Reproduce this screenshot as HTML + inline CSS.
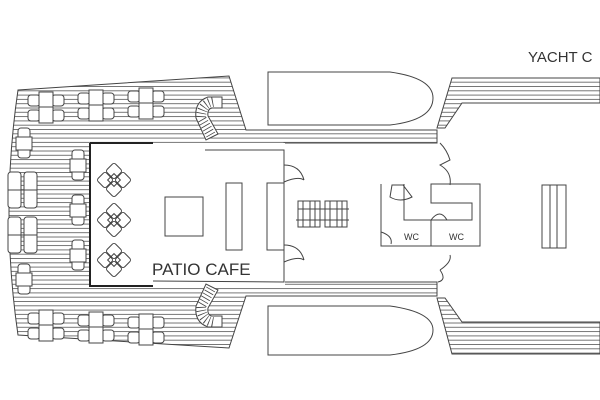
<!DOCTYPE html>
<html><head><meta charset="utf-8"><style>
html,body{margin:0;padding:0;background:#fff;width:600px;height:400px;overflow:hidden}
svg{display:block}
text{font-family:"Liberation Sans",sans-serif;fill:#333}
</style></head><body>
<svg width="600" height="400" viewBox="0 0 600 400" xmlns="http://www.w3.org/2000/svg">
<defs>
<pattern id="pl" width="10" height="4.3" patternUnits="userSpaceOnUse">
<rect width="10" height="4.3" fill="#fff"/>
<line x1="0" y1="0.5" x2="10" y2="0.5" stroke="#555" stroke-width="0.8"/>
</pattern>
<g id="dm">
<rect x="-6" y="-15" width="12" height="12" rx="2.5" transform="rotate(45 0 -9)"/>
<rect x="-6" y="3" width="12" height="12" rx="2.5" transform="rotate(45 0 9)"/>
<rect x="-15" y="-6" width="12" height="12" rx="2.5" transform="rotate(45 -9 0)"/>
<rect x="3" y="-6" width="12" height="12" rx="2.5" transform="rotate(45 9 0)"/>
<rect x="-4.5" y="-4.5" width="9" height="9" transform="rotate(45 0 0)"/>
</g>
</defs>
<g stroke="#444" stroke-width="1" fill="none">
<path d="M18,90 L229,76 L246,130 L437,130 L437,143 L284,143 L284,282 L437,282 L437,296 L246,296 L229,348 L18,335 Q0,212 18,90 Z" fill="url(#pl)"/>
<path d="M452,78 L600,78 L600,103 L462,103 L445,128 L437,128 Z" fill="url(#pl)"/>
<path d="M437,298 L445,298 L462,322 L600,322 L600,354 L452,354 Z" fill="url(#pl)"/>
<path d="M268,72 L390,72 Q433,78 433,98 Q433,120 390,125 L268,125 Z" fill="#fff"/>
<path d="M268,306 L390,306 Q433,312 433,330 Q433,350 390,355 L268,355 Z" fill="#fff"/>
<rect x="90" y="143" width="195" height="142" fill="#fff" stroke="none"/>
<path d="M90,143 L153,143 M90,143 L90,286 L153,286" stroke="#222" stroke-width="2"/>
<path d="M205,150 L284,150 L284,282 L153,281"/>
<use href="#dm" transform="translate(114,180)"/>
<use href="#dm" transform="translate(114,220)"/>
<use href="#dm" transform="translate(114,260)"/>
<rect x="165" y="197" width="38" height="39"/>
<rect x="226" y="183" width="16" height="67"/>
<rect x="267" y="183" width="17" height="67"/>
<path d="M284,165 Q300,165 304,180 M284,182 Q298,176 304,180 M284,245 Q300,245 304,260 M284,262 Q298,256 304,260"/>
<path d="M440,143 Q447,150 450,160 L440,165 Q452,172 450,185 M440,270 Q452,262 450,255 M440,270 Q447,280 438,282"/>
<rect x="298" y="201" width="22" height="26"/><rect x="325" y="201" width="22" height="26"/>
<path d="M296,220 L349,220 M303,201 L303,227 M310,201 L310,227 M315,201 L315,227 M330,201 L330,227 M337,201 L337,227 M342,201 L342,227 M298,209 L349,209"/>
<path d="M381,184 L381,246 L480,246 L480,184 L431,184 L431,203 L472,203 L472,220 L404,220 L404,184 M431,220 L431,246"/>
<path d="M392,185 L403,185 L412,197 Q400,203 390,197 Z"/>
<path d="M431,220 Q440,208 447,220 Z"/>
<path d="M381,232 Q393,236 391,244"/>
<rect x="542" y="185" width="24" height="63"/>
<path d="M550,185 L550,248 M557,185 L557,248"/>
<g fill="#fff">
<path d="M222,97 L208,97 Q194,102 196,118 L206,140 L218,134 L208,116 Q207,109 212,108 L222,108 Z"/>
<path d="M222,327 L208,327 Q194,322 196,306 L206,284 L218,290 L208,308 Q207,315 212,316 L222,316 Z"/>
</g>
<path d="M213,102 Q201,104 201,118 L212,137" stroke="#444" stroke-width="10" stroke-dasharray="0.8 2.6"/>
<path d="M213,322 Q201,320 201,306 L212,287" stroke="#444" stroke-width="10" stroke-dasharray="0.8 2.6"/>
<g id="cg" fill="#fff">
<rect x="28" y="95" width="12" height="11" rx="3"/><rect x="28" y="110" width="12" height="11" rx="3"/>
<rect x="52" y="95" width="12" height="11" rx="3"/><rect x="52" y="110" width="12" height="11" rx="3"/>
<rect x="39" y="92" width="14" height="31"/><path d="M39,107 L53,107"/>
</g>
<use href="#cg" transform="translate(50,-2)"/>
<use href="#cg" transform="translate(100,-4)"/>
<use href="#cg" transform="translate(0,218)"/>
<use href="#cg" transform="translate(50,220)"/>
<use href="#cg" transform="translate(100,222)"/>
<g fill="#fff">
<g id="sc"><rect x="18" y="128" width="12" height="30" rx="3"/><rect x="16" y="137" width="16" height="13"/></g>
<use href="#sc" transform="translate(0,136)"/>
<use href="#sc" transform="translate(54,22)"/><use href="#sc" transform="translate(54,67)"/><use href="#sc" transform="translate(54,112)"/>
<g id="dc"><rect x="8" y="172" width="13" height="36" rx="3"/><rect x="24" y="172" width="13" height="36" rx="3"/><path d="M8,190 L37,190"/></g>
<use href="#dc" transform="translate(0,45)"/>
</g>
</g>
<text x="528" y="62" font-size="15">YACHT C</text>
<text x="152" y="275" font-size="17">PATIO CAFE</text>
<text x="404" y="240" font-size="9">WC</text>
<text x="449" y="240" font-size="9">WC</text>
</svg>
</body></html>
